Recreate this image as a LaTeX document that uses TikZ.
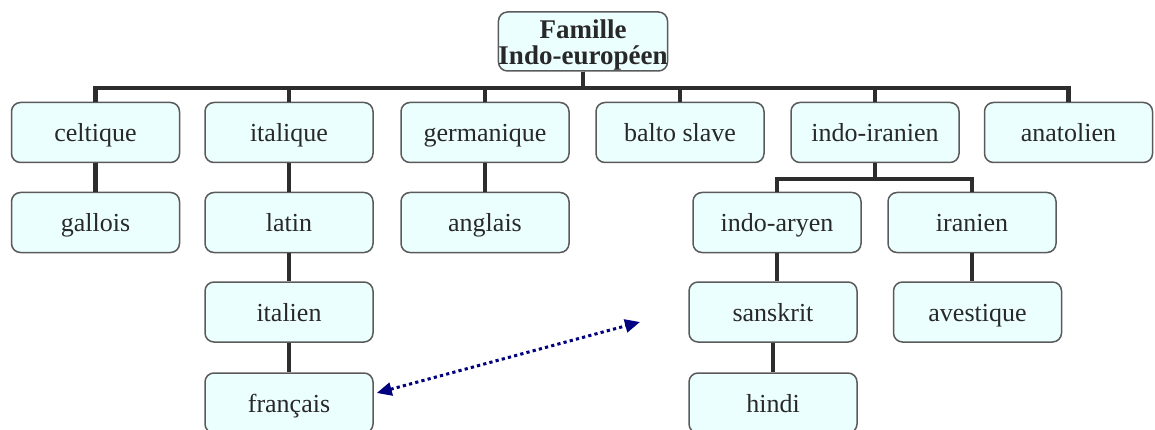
\documentclass[tikz,border=0pt]{standalone}
\usepackage{fontspec}
\setmainfont{Liberation Serif}
\usetikzlibrary{arrows.meta}
\definecolor{boxfill}{RGB}{236,255,255}
\definecolor{boxline}{RGB}{90,90,90}
\definecolor{conn}{RGB}{45,45,45}
\definecolor{txt}{RGB}{40,40,40}
\definecolor{navyarr}{RGB}{0,0,128}
\tikzset{
  langbox/.style={draw=boxline, line width=1.5pt, fill=boxfill, rounded corners=9pt,
    minimum width=168pt, minimum height=60pt, inner sep=0pt, text=txt,
    text height=20.5pt, text depth=2.5pt,
    font=\fontsize{26}{28}\selectfont},
  rootbox/.style={draw=boxline, line width=1.5pt, fill=boxfill, rounded corners=9pt,
    minimum width=166pt, minimum height=59pt, inner sep=0pt, text=txt, align=center,
    font=\fontsize{27}{26}\selectfont\bfseries},
  link/.style={draw=conn, line width=4.5pt},
  relarrow/.style={draw=navyarr, line width=3pt, dash pattern=on 3.2pt off 3.2pt,
    {Triangle[length=15pt,width=13pt]}-{Triangle[length=15pt,width=13pt]}}
}
\begin{document}
\begin{tikzpicture}[x=1pt,y=-1pt]
\useasboundingbox (0,0) rectangle (1155,430);
% root
\node[rootbox] (root) at (583,41.5) {\rule{0pt}{25pt}Famille\\Indo-européen};
% row 1
\node[langbox] (celt) at (95.5,132.5) {celtique};
\node[langbox] (ital) at (289,132.5) {italique};
\node[langbox] (germ) at (485,132.5) {germanique};
\node[langbox] (balt) at (680,132.5) {balto slave};
\node[langbox] (indir) at (875,132.5) {indo-iranien};
\node[langbox] (anat) at (1068.5,132.5) {anatolien};
% row 2
\node[langbox] (gall) at (95.5,222.5) {gallois};
\node[langbox] (lat) at (289,222.5) {latin};
\node[langbox] (angl) at (485,222.5) {anglais};
\node[langbox] (indar) at (777,222.5) {indo-aryen};
\node[langbox] (iran) at (972,222.5) {iranien};
% row 3
\node[langbox] (itn) at (289,312) {italien};
\node[langbox] (sans) at (773,312) {sanskrit};
\node[langbox] (aves) at (977.5,312) {avestique};
% row 4
\node[langbox] (fra) at (289,403) {français};
\node[langbox] (hind) at (773,403) {hindi};
% connectors
\foreach \c in {celt,ital,germ,balt,indir,anat}{
  \draw[link] (root.south) -- ++(0,16.5) -| (\c.north);
}
\foreach \c in {indar,iran}{
  \draw[link] (indir.south) -- ++(0,16) -| (\c.north);
}
\draw[link] (celt) -- (gall);
\draw[link] (ital) -- (lat);
\draw[link] (germ) -- (angl);
\draw[link] (lat) -- (itn);
\draw[link] (itn) -- (fra);
\draw[link] (indar.south) -- (indar.south |- sans.north);
\draw[link] (iran.south) -- (iran.south |- aves.north);
\draw[link] (sans) -- (hind);
\coordinate (arrEnd) at (640,322);
\coordinate (arrStart) at ([shift={(3,-10)}]fra.east);
\draw[relarrow] (arrStart) -- (arrEnd);
\end{tikzpicture}
\end{document}
